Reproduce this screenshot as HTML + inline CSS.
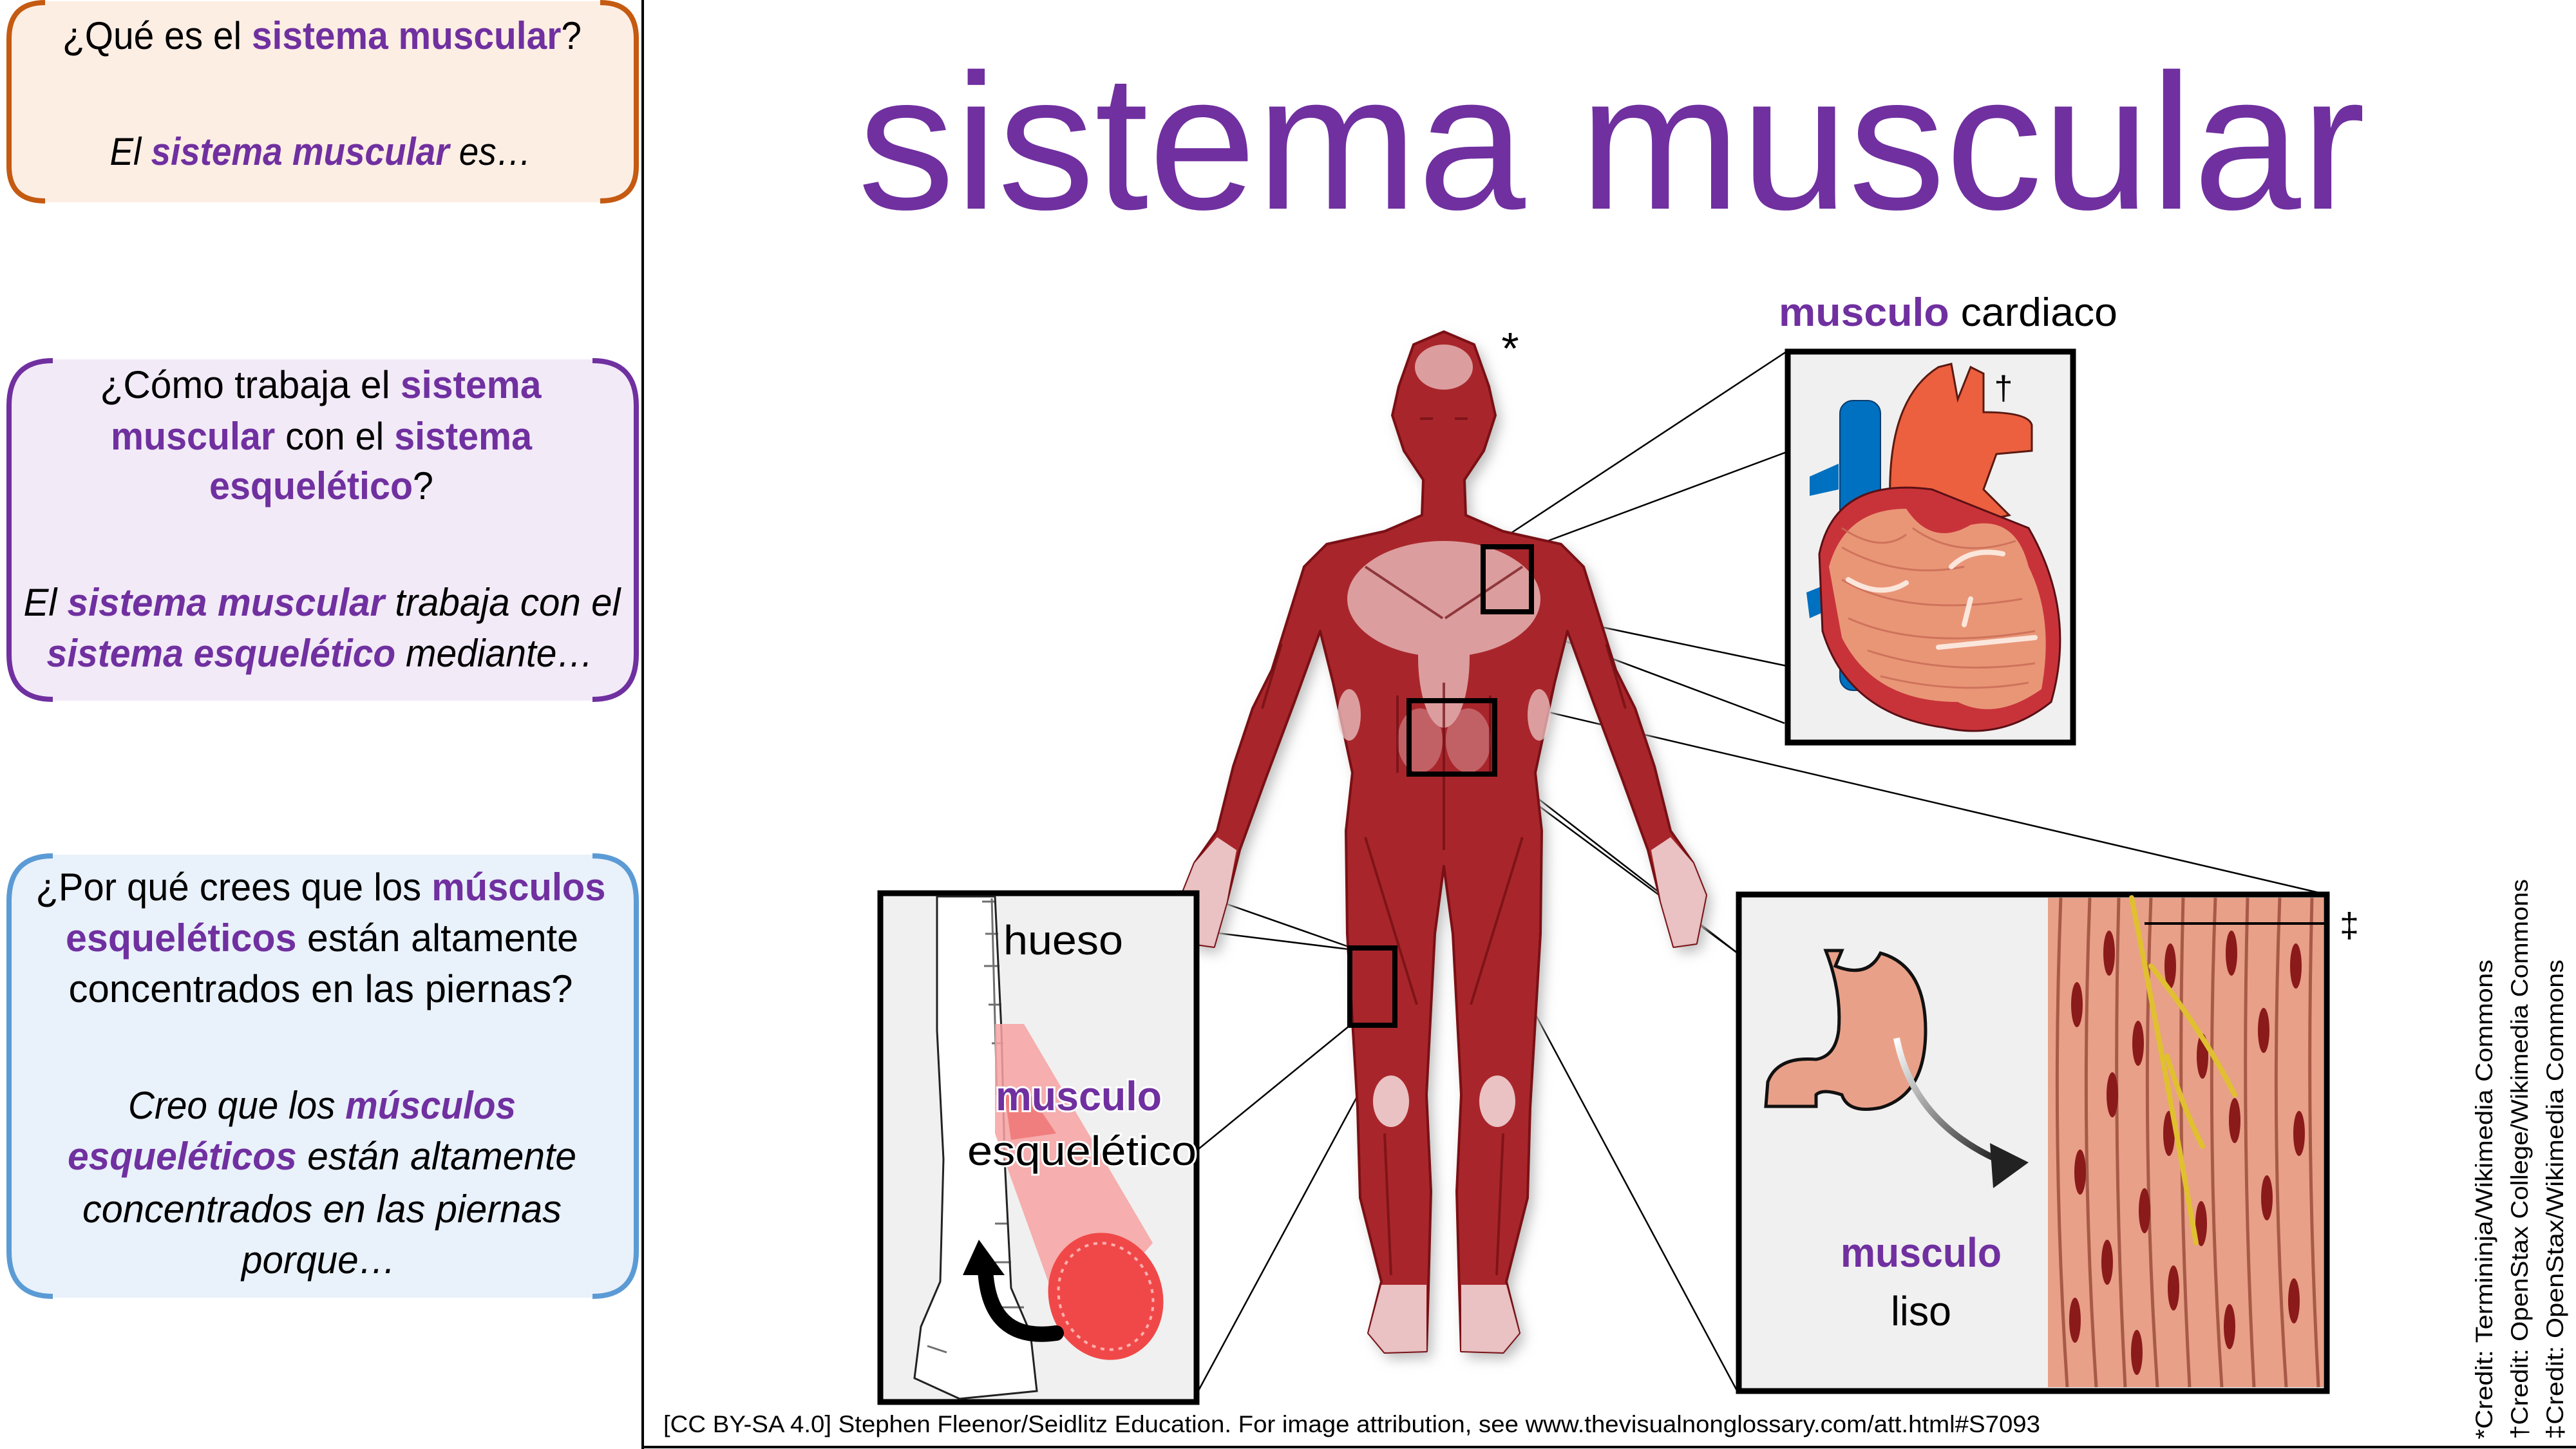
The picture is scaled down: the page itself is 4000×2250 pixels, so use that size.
<!DOCTYPE html>
<html><head><meta charset="utf-8"><style>
html,body{margin:0;padding:0;background:#fff;}
svg{display:block;}
text{font-family:"Liberation Sans",sans-serif;}
.p{fill:#7030a0;font-weight:bold;}
</style></head><body>
<svg width="4000" height="2250" viewBox="0 0 4000 2250" xmlns="http://www.w3.org/2000/svg">
<defs>
<filter id="sh" x="-20%" y="-20%" width="140%" height="140%"><feGaussianBlur stdDeviation="10"/></filter>
<linearGradient id="ag" x1="0" y1="0" x2="1" y2="1"><stop offset="0" stop-color="#fff"/><stop offset="1" stop-color="#222"/></linearGradient>
</defs>
<rect width="4000" height="2250" fill="#fff"/>

<rect x="12" y="2" width="978" height="312" rx="55" fill="#fdeee4"/>
<path d="M70 4 Q14 4 14 60 L14 258 Q14 312 70 312 M932 4 Q988 4 988 60 L988 258 Q988 312 932 312" fill="none" stroke="#c55a11" stroke-width="8"/>
<text x="500" y="76" font-size="60" text-anchor="middle" textLength="806" lengthAdjust="spacingAndGlyphs">¿Qué es el <tspan class="p">sistema muscular</tspan>?</text>
<text x="498" y="256" font-size="60" text-anchor="middle" font-style="italic" textLength="655" lengthAdjust="spacingAndGlyphs">El <tspan class="p">sistema muscular</tspan> es…</text>

<rect x="12" y="558" width="978" height="530" rx="75" fill="#f2eaf7"/>
<path d="M82 560 Q14 560 14 630 L14 1016 Q14 1086 82 1086 M920 560 Q988 560 988 630 L988 1016 Q988 1086 920 1086" fill="none" stroke="#7030a0" stroke-width="8"/>
<text x="498" y="618" font-size="60" text-anchor="middle" textLength="685" lengthAdjust="spacingAndGlyphs">¿Cómo trabaja el <tspan class="p">sistema</tspan></text>
<text x="499" y="698" font-size="60" text-anchor="middle" textLength="654" lengthAdjust="spacingAndGlyphs"><tspan class="p">muscular</tspan> con el <tspan class="p">sistema</tspan></text>
<text x="499" y="775" font-size="60" text-anchor="middle" textLength="348" lengthAdjust="spacingAndGlyphs"><tspan class="p">esquelético</tspan>?</text>
<text x="500" y="956" font-size="60" text-anchor="middle" font-style="italic" textLength="927" lengthAdjust="spacingAndGlyphs">El <tspan class="p">sistema muscular</tspan> trabaja con el</text>
<text x="497" y="1035" font-size="60" text-anchor="middle" font-style="italic" textLength="849" lengthAdjust="spacingAndGlyphs"><tspan class="p">sistema esquelético</tspan> mediante…</text>

<rect x="12" y="1327" width="978" height="688" rx="75" fill="#e9f1fa"/>
<path d="M82 1329 Q14 1329 14 1399 L14 1943 Q14 2013 82 2013 M920 1329 Q988 1329 988 1399 L988 1943 Q988 2013 920 2013" fill="none" stroke="#5b9bd5" stroke-width="8"/>
<text x="498" y="1398" font-size="60" text-anchor="middle" textLength="885" lengthAdjust="spacingAndGlyphs">¿Por qué crees que los <tspan class="p">músculos</tspan></text>
<text x="500" y="1477" font-size="60" text-anchor="middle" textLength="796" lengthAdjust="spacingAndGlyphs"><tspan class="p">esqueléticos</tspan> están altamente</text>
<text x="498" y="1556" font-size="60" text-anchor="middle" textLength="783" lengthAdjust="spacingAndGlyphs">concentrados en las piernas?</text>
<text x="500" y="1737" font-size="60" text-anchor="middle" font-style="italic" textLength="602" lengthAdjust="spacingAndGlyphs">Creo que los <tspan class="p">músculos</tspan></text>
<text x="500" y="1816" font-size="60" text-anchor="middle" font-style="italic" textLength="790" lengthAdjust="spacingAndGlyphs"><tspan class="p">esqueléticos</tspan> están altamente</text>
<text x="500" y="1898" font-size="60" text-anchor="middle" font-style="italic" textLength="744" lengthAdjust="spacingAndGlyphs">concentrados en las piernas</text>
<text x="495" y="1977" font-size="60" text-anchor="middle" font-style="italic" textLength="240" lengthAdjust="spacingAndGlyphs">porque…</text>

<line x1="998" y1="0" x2="998" y2="2250" stroke="#000" stroke-width="4"/>
<line x1="998" y1="2247" x2="4000" y2="2247" stroke="#000" stroke-width="4"/>

<text x="1332" y="324" font-size="300" fill="#7030a0" textLength="2341" lengthAdjust="spacingAndGlyphs">sistema muscular</text>

<g stroke="#000" stroke-width="2.5" fill="none">
<line x1="2317" y1="847" x2="2774" y2="546"/>
<line x1="2379" y1="849" x2="2774" y2="702"/>
<line x1="2379" y1="951" x2="2774" y2="1034"/>
<line x1="2317" y1="953" x2="2771" y2="1123"/>
<line x1="2324" y1="1087" x2="3617" y2="1390"/>
<line x1="2192" y1="1088" x2="2698" y2="1480"/>
<line x1="2324" y1="1203" x2="2698" y2="1480"/>
<line x1="2185" y1="1203" x2="2698" y2="2161"/>
<line x1="1860" y1="1388" x2="2094" y2="1470"/>
<line x1="1860" y1="1445" x2="2094" y2="1474"/>
<line x1="1860" y1="1785" x2="2094" y2="1594"/>
<line x1="1860" y1="2161" x2="2166" y2="1594"/>
</g>

<g>
<path filter="url(#sh)" fill="#bbb" transform="translate(8,10)" d="M2242 515 L2195 535 2172 600 2162 645 2180 700 2210 745 2208 800 2150 825 2060 845 2025 880 2000 960 1975 1040 1945 1100 1915 1190 1890 1290 1855 1340 1835 1390 1850 1465 1885 1470 1905 1400 1925 1320 1965 1210 2010 1090 2050 980 2070 1060 2100 1200 2090 1290 2092 1450 2108 1720 2112 1860 2145 1990 2125 2070 2150 2100 2215 2098 2218 2000 2222 1850 2215 1700 2228 1450 2242 1345 2256 1450 2269 1700 2262 1850 2266 2000 2269 2098 2334 2100 2359 2070 2339 1990 2372 1860 2376 1720 2392 1450 2394 1290 2384 1200 2414 1060 2434 980 2474 1090 2519 1210 2559 1320 2579 1400 2599 1470 2634 1465 2649 1390 2629 1340 2594 1290 2569 1190 2539 1100 2509 1040 2484 960 2459 880 2424 845 2334 825 2276 800 2274 745 2304 700 2322 645 2312 600 2289 535 Z"/>
<path fill="#a8262b" stroke="#7a1015" stroke-width="4" stroke-linejoin="round" d="M2242 515 L2195 535 2172 600 2162 645 2180 700 2210 745 2208 800 2150 825 2060 845 2025 880 2000 960 1975 1040 1945 1100 1915 1190 1890 1290 1855 1340 1835 1390 1850 1465 1885 1470 1905 1400 1925 1320 1965 1210 2010 1090 2050 980 2070 1060 2100 1200 2090 1290 2092 1450 2108 1720 2112 1860 2145 1990 2125 2070 2150 2100 2215 2098 2218 2000 2222 1850 2215 1700 2228 1450 2242 1345 2256 1450 2269 1700 2262 1850 2266 2000 2269 2098 2334 2100 2359 2070 2339 1990 2372 1860 2376 1720 2392 1450 2394 1290 2384 1200 2414 1060 2434 980 2474 1090 2519 1210 2559 1320 2579 1400 2599 1470 2634 1465 2649 1390 2629 1340 2594 1290 2569 1190 2539 1100 2509 1040 2484 960 2459 880 2424 845 2334 825 2276 800 2274 745 2304 700 2322 645 2312 600 2289 535 Z"/>
<g fill="#f2d0d0" opacity="0.7">
<ellipse cx="2242" cy="930" rx="150" ry="90"/>
<ellipse cx="2242" cy="1020" rx="40" ry="110"/>
<ellipse cx="2242" cy="570" rx="45" ry="35"/>
<ellipse cx="2095" cy="1110" rx="18" ry="40"/>
<ellipse cx="2390" cy="1110" rx="18" ry="40"/>
<ellipse cx="2205" cy="1150" rx="35" ry="50" opacity="0.5"/>
<ellipse cx="2280" cy="1150" rx="35" ry="50" opacity="0.5"/>
</g>
<g fill="#f6dede" opacity="0.85">
<path d="M1855 1340 L1890 1300 1920 1320 1905 1400 1885 1470 1850 1465 1835 1390Z"/>
<path d="M2629 1340 L2594 1300 2564 1320 2579 1400 2599 1470 2634 1465 2649 1390Z"/>
<path d="M2145 1995 L2215 1995 2215 2098 2150 2100 2125 2070Z"/>
<path d="M2339 1995 L2269 1995 2269 2098 2334 2100 2359 2070Z"/>
<ellipse cx="2160" cy="1710" rx="28" ry="40"/>
<ellipse cx="2325" cy="1710" rx="28" ry="40"/>
</g>
<g stroke="#6e0d12" stroke-width="4" fill="none" opacity="0.7">
<path d="M2120 880 L2240 960 M2364 880 L2244 960"/>
<path d="M2170 1080 L2170 1200 M2314 1080 L2314 1200 M2242 1060 L2242 1320"/>
<path d="M2120 1300 L2200 1560 M2364 1300 L2284 1560"/>
<path d="M2150 1760 L2160 1980 M2334 1760 L2324 1980"/>
<path d="M1990 1000 L1960 1100 M2494 1000 L2524 1100"/>
<path d="M2205 650 L2225 650 M2259 650 L2279 650"/>
</g>
</g>
<text x="2345" y="565" font-size="70" text-anchor="middle">*</text>
<g fill="none" stroke="#000" stroke-width="8">
<rect x="2303" y="849" width="75" height="101"/>
<rect x="2188" y="1088" width="133" height="114"/>
<rect x="2096" y="1472" width="70" height="120"/>
</g>

<text x="2762" y="506" font-size="62" textLength="526" lengthAdjust="spacingAndGlyphs"><tspan class="p">musculo</tspan> cardiaco</text>
<rect x="2776" y="546" width="443" height="607" fill="#f0f0f0" stroke="#000" stroke-width="9"/>
<g>
<path d="M2855 720 L2810 740 2810 770 2855 760Z M2855 900 L2805 920 2810 960 2855 940Z" fill="#0070c0"/>
<rect x="2857" y="622" width="63" height="450" rx="20" fill="#0070c0" stroke="#0a3c6e" stroke-width="2"/>
<path d="M2935 780 Q2930 620 3010 570 L3030 565 3040 620 3060 570 3080 580 3080 640 Q3150 640 3155 660 L3155 700 3100 705 3080 760 3120 800 3030 820Z" fill="#ec5f3f" stroke="#5a1a10" stroke-width="3"/>
<path d="M2825 860 Q2850 740 3000 760 L3150 820 Q3225 950 3185 1090 Q3110 1150 3020 1130 Q2870 1110 2830 980Z" fill="#c8333a" stroke="#5a1015" stroke-width="3"/>
<path d="M2840 880 Q2865 790 2960 790 Q3000 850 3060 815 Q3130 800 3150 880 Q3190 960 3170 1070 Q3100 1120 3040 1090 Q2910 1090 2860 990Z" fill="#e99677"/>
<g stroke="#c86a55" stroke-width="3" fill="none" opacity="0.8">
<path d="M2860 850 Q2950 900 3050 880 M2860 900 Q2960 960 3140 930 M2870 960 Q2980 1010 3160 980 M2900 1010 Q3020 1050 3160 1030 M2970 820 Q3040 870 3130 840 M2860 820 Q2920 860 2960 830 M2920 1050 Q3040 1080 3150 1060"/>
</g>
<g stroke="#fbe6dc" stroke-width="8" fill="none" stroke-linecap="round">
<path d="M2870 900 Q2920 930 2960 905"/><path d="M3030 880 Q3060 850 3110 860"/><path d="M3010 1005 L3160 990"/><path d="M3050 970 L3060 930"/>
</g>
</g>
<text x="3111" y="620" font-size="52" text-anchor="middle">†</text>

<rect x="1367" y="1387" width="491" height="790" fill="#f0f0f0" stroke="#000" stroke-width="9"/>
<path d="M1455 1392 L1545 1392 1555 1600 1560 1800 1570 2000 1600 2070 1610 2160 1490 2172 1420 2140 1430 2060 1460 1990 1465 1800 1455 1600Z" fill="#fff" stroke="#222" stroke-width="3"/>
<g stroke="#333" stroke-width="3" opacity="0.7">
<path d="M1525 1400 L1545 1400 M1530 1450 L1550 1450 M1528 1500 L1552 1500 M1535 1560 L1555 1560 M1540 1620 L1558 1620 M1545 1900 L1565 1900 M1545 1960 L1570 1960 M1550 2030 L1590 2030 M1440 2090 L1470 2100"/>
<line x1="1540" y1="1395" x2="1548" y2="1700"/>
</g>
<path d="M1545 1590 L1590 1590 1790 1930 1660 2080 1545 1760Z" fill="#f7a2a2" opacity="0.85"/>
<path d="M1560 1700 L1600 1700 1640 1760 1570 1770Z" fill="#ef6a6a" opacity="0.7"/>
<ellipse cx="1717" cy="2013" rx="88" ry="100" fill="#f04848" transform="rotate(-20 1717 2013)"/>
<ellipse cx="1717" cy="2013" rx="72" ry="84" fill="none" stroke="#ffb0b0" stroke-width="4" stroke-dasharray="6 8" transform="rotate(-20 1717 2013)"/>
<path d="M1530 1970 Q1535 2085 1640 2070" fill="none" stroke="#000" stroke-width="24" stroke-linecap="round"/>
<path d="M1520 1925 L1560 1980 1495 1980Z" fill="#000"/>
<text x="1558" y="1482" font-size="64" textLength="186" lengthAdjust="spacingAndGlyphs">hueso</text>
<text x="1546" y="1724" font-size="64" class="p" textLength="258" lengthAdjust="spacingAndGlyphs" stroke="#fff" stroke-width="6" paint-order="stroke">musculo</text>
<text x="1502" y="1809" font-size="64" textLength="356" lengthAdjust="spacingAndGlyphs" stroke="#fff" stroke-width="6" paint-order="stroke">esquelético</text>

<rect x="2700" y="1389" width="913" height="771" fill="#f0f0f0" stroke="#000" stroke-width="9"/>
<rect x="3180" y="1394" width="428" height="760" fill="#e8a088"/>
<g stroke="#a85a48" stroke-width="5" fill="none">
<path d="M3200 1394 Q3185 1780 3210 2154 M3245 1394 Q3230 1780 3255 2154 M3290 1394 Q3280 1780 3300 2154 M3340 1394 Q3325 1780 3350 2154 M3390 1394 Q3380 1780 3400 2154 M3440 1394 Q3425 1780 3450 2154 M3490 1394 Q3480 1780 3500 2154 M3540 1394 Q3525 1780 3550 2154 M3590 1394 Q3580 1780 3600 2154"/>
</g>
<g fill="#8b1a1a">
<ellipse cx="3225" cy="1560" rx="9" ry="35"/><ellipse cx="3230" cy="1820" rx="9" ry="35"/><ellipse cx="3222" cy="2050" rx="9" ry="35"/>
<ellipse cx="3275" cy="1480" rx="9" ry="35"/><ellipse cx="3280" cy="1700" rx="9" ry="35"/><ellipse cx="3272" cy="1960" rx="9" ry="35"/>
<ellipse cx="3320" cy="1620" rx="9" ry="35"/><ellipse cx="3330" cy="1880" rx="9" ry="35"/><ellipse cx="3318" cy="2100" rx="9" ry="35"/>
<ellipse cx="3370" cy="1500" rx="9" ry="35"/><ellipse cx="3368" cy="1760" rx="9" ry="35"/><ellipse cx="3375" cy="2000" rx="9" ry="35"/>
<ellipse cx="3420" cy="1640" rx="9" ry="35"/><ellipse cx="3418" cy="1900" rx="9" ry="35"/>
<ellipse cx="3465" cy="1480" rx="9" ry="35"/><ellipse cx="3470" cy="1740" rx="9" ry="35"/><ellipse cx="3462" cy="2060" rx="9" ry="35"/>
<ellipse cx="3515" cy="1600" rx="9" ry="35"/><ellipse cx="3520" cy="1860" rx="9" ry="35"/>
<ellipse cx="3565" cy="1500" rx="9" ry="35"/><ellipse cx="3570" cy="1760" rx="9" ry="35"/><ellipse cx="3562" cy="2020" rx="9" ry="35"/>
</g>
<g stroke="#e0c030" stroke-width="8" fill="none" stroke-linecap="round">
<path d="M3310 1394 Q3370 1700 3410 1930"/>
<path d="M3340 1500 Q3420 1600 3470 1700"/>
<path d="M3365 1640 Q3390 1720 3420 1780"/>
</g>
<line x1="3330" y1="1434" x2="3611" y2="1434" stroke="#000" stroke-width="4"/>
<text x="3648" y="1455" font-size="54" text-anchor="middle">‡</text>
<path d="M2835 1476 L2860 1476 2850 1500 Q2900 1520 2920 1480 Q2990 1500 2990 1600 Q2990 1700 2920 1720 Q2870 1730 2860 1700 Q2830 1690 2820 1700 L2820 1718 2742 1718 2745 1680 Q2760 1640 2820 1645 Q2850 1640 2855 1600 Q2860 1540 2835 1476Z" fill="#e9a088" stroke="#111" stroke-width="5"/>
<path d="M2945 1612 Q2970 1740 3100 1800" fill="none" stroke="url(#ag)" stroke-width="10"/>
<path d="M3090 1775 L3150 1805 3095 1845Z" fill="#222"/>
<text x="2858" y="1967" font-size="64" class="p" textLength="250" lengthAdjust="spacingAndGlyphs">musculo</text>
<text x="2936" y="2058" font-size="64" textLength="94" lengthAdjust="spacingAndGlyphs">liso</text>

<text x="1030" y="2224" font-size="37" textLength="2138" lengthAdjust="spacingAndGlyphs">[CC BY-SA 4.0] Stephen Fleenor/Seidlitz Education.  For image attribution, see www.thevisualnonglossary.com/att.html#S7093</text>

<text transform="translate(3870 2235) rotate(-90)" font-size="37" textLength="745" lengthAdjust="spacingAndGlyphs">*Credit: Termininja/Wikimedia Commons</text>
<text transform="translate(3925 2235) rotate(-90)" font-size="37" textLength="870" lengthAdjust="spacingAndGlyphs">†Credit: OpenStax College/Wikimedia Commons</text>
<text transform="translate(3980 2235) rotate(-90)" font-size="37" textLength="745" lengthAdjust="spacingAndGlyphs">‡Credit: OpenStax/Wikimedia Commons</text>
</svg>
</body></html>
